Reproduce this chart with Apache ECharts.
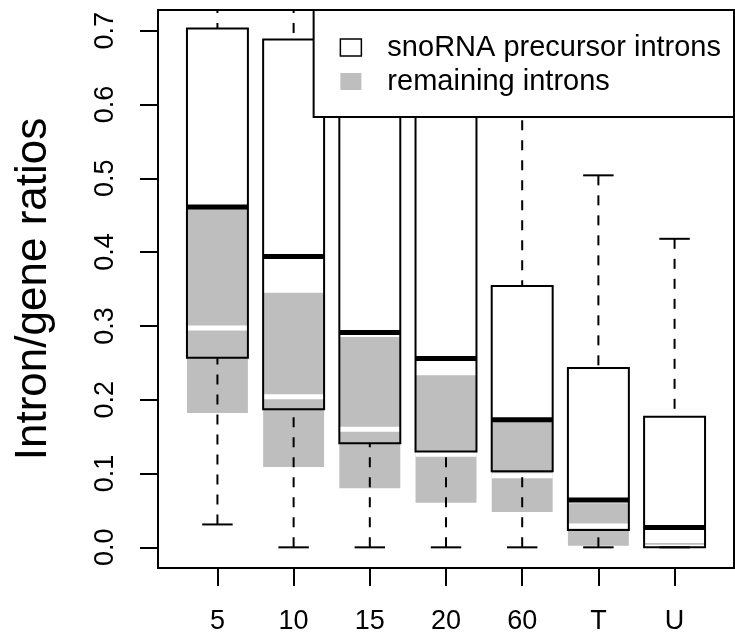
<!DOCTYPE html>
<html><head><meta charset="utf-8">
<script src="https://cdn.jsdelivr.net/npm/echarts@6/dist/echarts.min.js"></script>
<style>html,body{margin:0;padding:0;background:#fff}#c{width:735px;height:636px}</style>
</head><body><div id="c"></div>
<script>
const categories = ['5', '10', '15', '20', '60', 'T', 'U'];
// snoRNA precursor introns: lower whisker, Q1, median, Q3, upper whisker
const snoLow = [0.031, 0, 0, 0, 0, 0, 0];
const snoQ1 = [0.257, 0.187, 0.141, 0.130, 0.103, 0.0235, 0];
const snoMedian = [0.461, 0.394, 0.291, 0.256, 0.173, 0.064, 0.027];
const snoQ3 = [0.703, 0.688, 0.68, 0.65, 0.354, 0.243, 0.177];
const snoHigh = [0.9, 0.9, 0.9, 0.9, 0.66, 0.504, 0.418];
// remaining introns: Q1, median, Q3
const remQ1 = [0.182, 0.109, 0.080, 0.0605, 0.048, 0.002, 0];
const remMedian = [0.297, 0.204, 0.160, 0.126, 0.097, 0.029, 0];
const remQ3 = [0.459, 0.345, 0.285, 0.233, 0.170, 0.0596, 0.006];
const yTicks = [0, 0.1, 0.2, 0.3, 0.4, 0.5, 0.6, 0.7];

const xPos = categories.map((c, i) => i + 1);
const snoData = categories.map((c, i) => [i + 1, snoLow[i], snoQ1[i], snoMedian[i], snoQ3[i], snoHigh[i]]);
const remData = categories.map((c, i) => [i + 1, remQ1[i], remMedian[i], remQ3[i]]);
const FONT = 'Liberation Sans';

function renderRem(params, api) {
  const x = api.value(0);
  const w = api.size([0.8, 0])[0];
  const q1 = api.coord([x, api.value(1)]);
  const md = api.coord([x, api.value(2)]);
  const q3 = api.coord([x, api.value(3)]);
  const cx = q1[0];
  return {type: 'group', children: [
    {type: 'rect', shape: {x: cx - w / 2, y: q3[1], width: w, height: q1[1] - q3[1]}, style: {fill: '#bebebe'}},
    {type: 'line', shape: {x1: cx - w / 2, y1: md[1], x2: cx + w / 2, y2: md[1]}, style: {stroke: '#fff', lineWidth: 5}}
  ]};
}
function renderSno(params, api) {
  const x = api.value(0);
  const w = api.size([0.8, 0])[0];
  const c = v => api.coord([x, v]);
  const lo = c(api.value(1)), q1 = c(api.value(2)), md = c(api.value(3)), q3 = c(api.value(4)), hi = c(api.value(5));
  const cx = lo[0];
  const blk = '#000';
  return {type: 'group', children: [
    {type: 'line', shape: {x1: cx, y1: hi[1], x2: cx, y2: q3[1]}, style: {stroke: blk, lineWidth: 2, lineDash: [10, 10]}},
    {type: 'line', shape: {x1: cx, y1: lo[1], x2: cx, y2: q1[1]}, style: {stroke: blk, lineWidth: 2, lineDash: [10, 10]}},
    {type: 'line', shape: {x1: cx - w / 4, y1: hi[1], x2: cx + w / 4, y2: hi[1]}, style: {stroke: blk, lineWidth: 2}},
    {type: 'line', shape: {x1: cx - w / 4, y1: lo[1], x2: cx + w / 4, y2: lo[1]}, style: {stroke: blk, lineWidth: 2}},
    {type: 'rect', shape: {x: cx - w / 2, y: q3[1], width: w, height: q1[1] - q3[1]}, style: {fill: 'none', stroke: blk, lineWidth: 2}},
    {type: 'line', shape: {x1: cx - w / 2, y1: md[1], x2: cx + w / 2, y2: md[1]}, style: {stroke: blk, lineWidth: 5}}
  ]};
}

const chart = echarts.init(document.getElementById('c'), null, {renderer: 'canvas'});
chart.setOption({
  animation: false,
  backgroundColor: '#fff',
  grid: {left: 158, right: 1, top: 10, bottom: 68, show: true, borderColor: '#000', borderWidth: 2, containLabel: false},
  legend: {
    orient: 'vertical', right: 1, top: 10,
    data: [
      {name: 'snoRNA precursor introns', icon: 'rect', itemStyle: {color: '#fff', borderColor: '#000', borderWidth: 1.5}},
      {name: 'remaining introns', icon: 'rect', itemStyle: {color: '#bebebe', borderWidth: 0}}
    ],
    itemWidth: 21, itemHeight: 17, itemGap: 3,
    backgroundColor: '#fff', borderColor: '#000', borderWidth: 2,
    padding: [22, 13, 20, 26],
    textStyle: {fontFamily: FONT, fontSize: 29, color: '#000', padding: [0, 0, 0, 21], lineHeight: 31},
    selectedMode: false
  },
  xAxis: {
    type: 'value', min: 0.22, max: 7.78,
    splitLine: {show: false}, axisLine: {show: true, onZero: false, lineStyle: {color: '#000', width: 2}},
    axisTick: {show: true, customValues: xPos, length: 18, lineStyle: {color: '#000', width: 2}},
    axisLabel: {customValues: xPos, formatter: v => categories[Math.round(v) - 1], fontSize: 27, color: '#000', fontFamily: FONT, margin: 40}
  },
  yAxis: {
    type: 'value', min: -0.028, max: 0.728,
    splitLine: {show: false}, axisLine: {show: true, onZero: false, lineStyle: {color: '#000', width: 2}},
    axisTick: {show: true, customValues: yTicks, length: 18, lineStyle: {color: '#000', width: 2}},
    axisLabel: {customValues: yTicks, rotate: 90, formatter: v => v.toFixed(1), fontSize: 27, color: '#000', fontFamily: FONT, margin: 39},
    name: 'Intron/gene ratios', nameLocation: 'middle', nameRotate: 90, nameGap: 102,
    nameTextStyle: {fontSize: 44, fontFamily: FONT, color: '#000'}
  },
  series: [
    {name: 'remaining introns', type: 'custom', renderItem: renderRem, data: remData, clip: true, itemStyle: {color: '#bebebe'}},
    {name: 'snoRNA precursor introns', type: 'custom', renderItem: renderSno, data: snoData, clip: true, itemStyle: {color: '#fff'}}
  ]
});
</script></body></html>
